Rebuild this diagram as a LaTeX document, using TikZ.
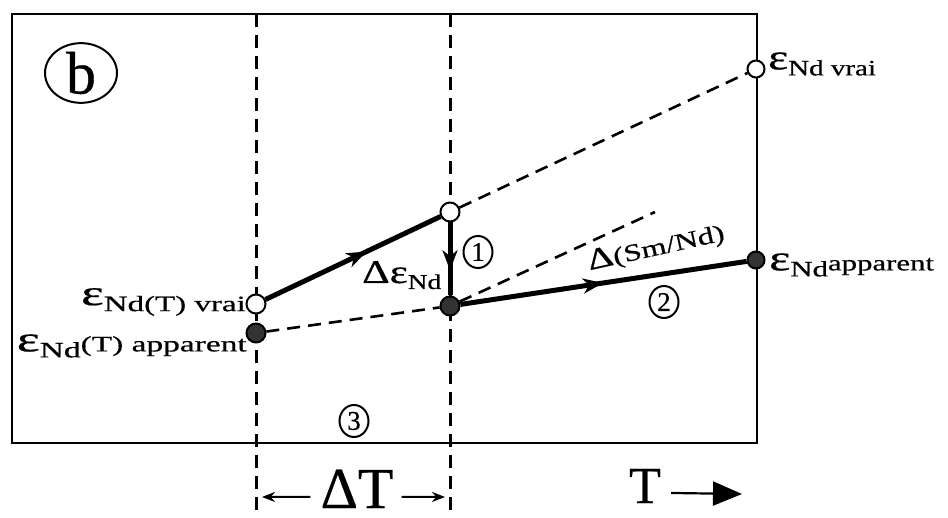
\documentclass[tikz,border=0pt]{standalone}
\usepackage{fontspec}
\setmainfont{Liberation Serif}[FakeBold=0.5]
\usetikzlibrary{arrows.meta,calc,shapes.geometric}
\newcommand{\bigsz}{\fontsize{36}{36}\selectfont}
\newcommand{\subsz}{\fontsize{22}{22}\selectfont}
% epsilon Nd: stretch, lowered part, raised part
\newcommand{\epsNd}[3]{\scalebox{#1}[1]{\bigsz ε\raisebox{-6pt}{\subsz Nd#2}{\subsz #3}}}

\begin{document}
\begin{tikzpicture}[x=1pt,y=-1pt,
  openpt/.style={circle,draw,line width=2pt,fill=white,minimum size=19pt,inner sep=0pt},
  fullpt/.style={circle,draw,line width=2pt,fill=black!80,minimum size=19pt,inner sep=0pt},
  heavy/.style={line width=5pt},
  guide/.style={line width=3pt,dash pattern=on 13pt off 8pt},
  slant/.style={line width=2.6pt,dash pattern=on 13pt off 8pt},
  numb/.style={ellipse,draw,line width=2pt,minimum width=29pt,minimum height=32pt,inner sep=0pt,
    font=\fontsize{27}{27}\selectfont},
  tip/.style={-{Stealth[length=20pt,width=15pt,inset=6pt]}}]
  \useasboundingbox (0,0) rectangle (948,518);
  % frame and time marks
  \draw[line width=2.4pt] (12,14) rectangle (757,443);
  \draw[guide] (256,14) -- (256,518);
  \draw[guide] (450,14) -- (450,518);
  % points
  \node[openpt] (vT) at (256,304) {};
  \node[fullpt] (aT) at (256,333) {};
  \node[openpt] (vM) at (450,212) {};
  \node[fullpt] (aM) at (450,306) {};
  \node[openpt,minimum size=17pt] (vR) at (756,69) {};
  \node[fullpt,minimum size=17pt] (aR) at (756,260) {};
  \coordinate (slopeEnd) at (655,212);
  % dashed references
  \draw[slant] (vM) -- (vR);
  \draw[slant] (aT) -- (aM);
  \draw[slant] (aM) -- (slopeEnd);
  % evolution paths
  \draw[heavy,tip] (vT) -- ($(vT)!0.57!(vM)$);
  \draw[heavy] ($(vT)!0.5!(vM)$) -- (vM);
  \draw[heavy,tip] (vM) -- ($(vM)!0.62!(aM)$);
  \draw[heavy] ($(vM)!0.5!(aM)$) -- (aM);
  \draw[heavy,tip] (aM) -- ($(aM)!0.5!(aR)$);
  \draw[heavy] ($(aM)!0.45!(aR)$) -- (aR);
  % labels
  \node[ellipse,draw,line width=2pt,minimum width=72pt,minimum height=57pt,inner sep=0pt,
    font=\fontsize{60}{60}\selectfont] (panel) at (81,73) {b};
  \node[anchor=east,inner sep=0pt] (lvT) at (246,302) {\epsNd{1.5}{(T) vrai}{}};
  \node[anchor=east,inner sep=0pt] (laT) at (247,346) {\epsNd{1.52}{}{(T) apparent}};
  \node[anchor=west,inner sep=0pt] (lvR) at (768,64) {\epsNd{1.32}{ vrai}{}};
  \node[anchor=west,inner sep=0pt] (laR) at (769,265) {\epsNd{1.4}{}{apparent}};
  \node[anchor=base west,inner sep=0pt] (dEps) at (362,283)
    {\scalebox{1.3}[1]{\fontsize{33}{33}\selectfont Δε\raisebox{-6pt}{\fontsize{21}{21}\selectfont Nd}}};
  \node[numb] (n1) at (478,252) {1};
  \node[numb] (n2) at (664,302) {2};
  \node[numb] (n3) at (354,421) {3};
  \node[rotate=12.5,inner sep=0pt] (dSm) at (656,248)
    {\scalebox{1.35}[1]{{\fontsize{30}{30}\selectfont Δ}{\fontsize{24}{24}\selectfont (Sm/Nd)}}};
  % time axis
  \node[font=\fontsize{58}{58}\selectfont,inner sep=0pt,anchor=base] (dT) at (357,508) {ΔT};
  \coordinate (dTl) at (262,497);
  \coordinate (dTr) at (445,497);
  \draw[line width=2pt,-{Stealth[length=13pt,width=10pt]}] ($(dT.west)+(-10,8)$) -- (dTl);
  \draw[line width=2pt,-{Stealth[length=13pt,width=10pt]}] ($(dT.east)+(8,8)$) -- (dTr);
  \node[font=\fontsize{52}{52}\selectfont,inner sep=0pt,anchor=base] (tAx) at (645,503) {T};
  \coordinate (tEnd) at (742,494);
  \draw[line width=2.2pt,-{Triangle[length=29pt,width=24pt]}] ($(tAx.east)+(10,7)$) -- (tEnd);
\end{tikzpicture}
\end{document}
